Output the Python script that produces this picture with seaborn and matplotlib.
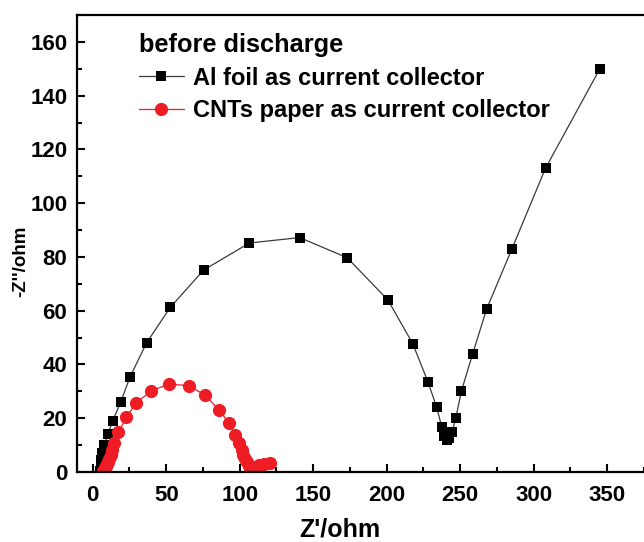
import matplotlib
matplotlib.use("Agg")
import matplotlib.pyplot as plt
import seaborn as sns
import pandas as pd

# Nyquist data, Al foil current collector (Z' / ohm, -Z'' / ohm)
al_zre = [5.0, 5.3, 5.8, 6.5, 8.0, 10.2, 13.6, 19.0, 25.4, 36.6, 52.7, 75.4,
          106.6, 140.8, 173.1, 200.8, 217.8, 228.2, 234.0, 237.4, 239.0, 240.7,
          242.3, 244.5, 247.0, 250.8, 258.4, 268.0, 285.0, 308.0, 345.0]
al_zim = [0.5, 2.0, 4.5, 7.0, 10.0, 14.0, 19.0, 26.0, 35.4, 48.0, 61.2, 75.1,
          85.2, 87.2, 79.7, 64.0, 47.6, 33.3, 24.0, 16.8, 13.4, 11.9,
          12.6, 15.0, 20.2, 30.1, 43.9, 60.7, 82.8, 113.0, 150.0]

# Nyquist data, CNTs paper current collector
cnt_zre = [7.3, 7.7, 8.3, 9.0, 9.7, 10.5, 11.3, 12.2, 13.2, 14.7, 17.3, 22.8,
           29.5, 39.9, 52.0, 65.6, 76.5, 86.1, 92.8, 96.7, 99.5, 101.3, 102.5,
           103.7, 104.9, 106.0, 107.2, 108.4, 110.0, 111.5, 112.9, 116.2, 120.7]
cnt_zim = [0.3, 0.8, 1.4, 2.1, 2.9, 3.9, 5.0, 6.2, 8.2, 10.7, 14.7, 20.3,
           25.7, 30.2, 32.7, 32.1, 28.5, 23.0, 18.1, 13.8, 10.7, 8.2, 6.5,
           5.0, 3.6, 2.4, 1.4, 0.7, 0.9, 1.8, 2.6, 3.0, 3.2]

series_labels = ["Al foil as current collector", "CNTs paper as current collector"]
legend_title = "before discharge"
x_ticks = [0, 50, 100, 150, 200, 250, 300, 350]
y_ticks = [0, 20, 40, 60, 80, 100, 120, 140, 160]

sns.set_style("ticks")
plt.rcParams["font.family"] = ["Liberation Sans", "DejaVu Sans"]
plt.rcParams["font.weight"] = "bold"
plt.rcParams["text.color"] = "black"
plt.rcParams["axes.labelcolor"] = "black"
plt.rcParams["xtick.color"] = "black"
plt.rcParams["ytick.color"] = "black"

al_df = pd.DataFrame({"zre": al_zre, "zim": al_zim})
cnt_df = pd.DataFrame({"zre": cnt_zre, "zim": cnt_zim})

fig = plt.figure(figsize=(6.44, 5.42), dpi=100)
ax = fig.add_axes([77 / 644, 70 / 542, 1 - 77 / 644, (472 - 15) / 542])

sns.lineplot(data=al_df, x="zre", y="zim", ax=ax, sort=False, estimator=None,
             color="#3a3a3a", linewidth=0.9, marker="s", markersize=7.5,
             markerfacecolor="black", markeredgecolor="black",
             markeredgewidth=0, label=series_labels[0])
sns.lineplot(data=cnt_df, x="zre", y="zim", ax=ax, sort=False, estimator=None,
             color="#ee1c25", linewidth=0.9, marker="o", markersize=9.5,
             markerfacecolor="#ee1c25", markeredgecolor="#ee1c25",
             markeredgewidth=0, label=series_labels[1])

ax.set_xlim(-10.7, 368.8)
ax.set_ylim(0, 170)
ax.set_xticks(x_ticks)
ax.set_yticks(y_ticks)
ax.set_xticks([v + 25 for v in x_ticks], minor=True)
ax.set_yticks([v + 10 for v in y_ticks], minor=True)

for side in ["left", "bottom", "top"]:
    ax.spines[side].set_linewidth(1.6)
    ax.spines[side].set_color("black")
ax.spines["right"].set_visible(False)

ax.tick_params(which="both", direction="in", width=1.5, color="black",
               labelcolor="black", right=False, top=False)
ax.tick_params(which="major", length=6)
ax.tick_params(which="minor", length=3.5)
ax.tick_params(axis="x", which="major", pad=9.5, labelsize=16)
ax.tick_params(axis="y", which="major", pad=7, labelsize=16)
for lab in ax.get_xticklabels() + ax.get_yticklabels():
    lab.set_fontweight("bold")

ax.set_xlabel("Z'/ohm", fontsize=18, fontweight="bold", color="black")
ax.set_ylabel("-Z''/ohm", fontsize=13.5, fontweight="bold", color="black")
ax.xaxis.set_label_coords((340 - 77) / 567, -0.100)
ax.yaxis.set_label_coords((29 - 77) / 567, 0.46)

leg = ax.legend(title=legend_title, loc="upper left", frameon=False,
                bbox_to_anchor=(0.109, 0.960), borderpad=0, borderaxespad=0,
                prop={"size": 17, "weight": "bold"},
                title_fontproperties={"size": 18.3, "weight": "bold"},
                handlelength=1.9, handletextpad=0.38, labelspacing=0.40,
                alignment="left")
for txt in leg.get_texts():
    txt.set_color("black")
leg.get_title().set_color("black")

fig.savefig("out.png", dpi=100)
